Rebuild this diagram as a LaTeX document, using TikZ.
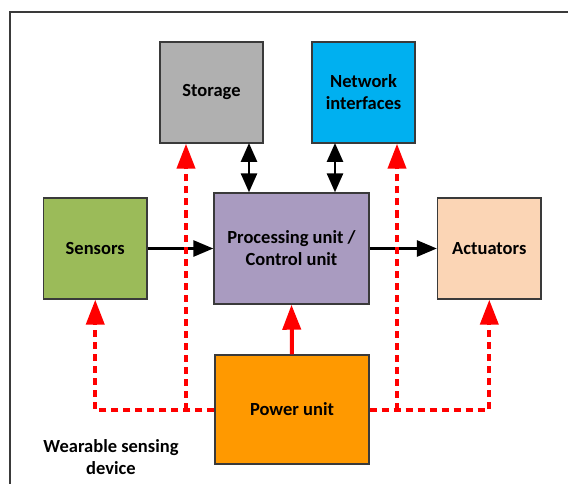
\documentclass[tikz,border=0pt]{standalone}
\usepackage{fontspec}
\setmainfont{Carlito}
\usetikzlibrary{arrows.meta}
\definecolor{cstor}{HTML}{B0B0B0}
\definecolor{cnet}{HTML}{00B0F0}
\definecolor{csens}{HTML}{9BBB59}
\definecolor{cproc}{HTML}{A99BC0}
\definecolor{cact}{HTML}{FBD5B5}
\definecolor{cpow}{HTML}{FF9900}
\definecolor{cedge}{HTML}{3A3A3A}
\tikzset{
  blk/.style={draw=cedge, line width=1.4pt, rectangle, inner sep=0pt, align=center,
    font=\fontsize{18.5}{22}\selectfont\bfseries},
  blkarrow/.style={line width=2.8pt, -{Triangle[length=20pt,width=16pt]}},
  blkdouble/.style={line width=2.8pt, {Triangle[length=19pt,width=16pt]}-{Triangle[length=19pt,width=16pt]}},
  redsolid/.style={draw=red, line width=4pt, -{Triangle[length=25pt,width=18pt]}},
  reddash/.style={draw=red, line width=4pt, dash pattern=on 7pt off 5pt},
  reddasharrow/.style={reddash, -{Triangle[length=25pt,width=18pt]}},
}
\begin{document}
\begin{tikzpicture}[x=1pt,y=-1pt]
\useasboundingbox (0,0) rectangle (568,484);
\fill[white] (0,0) rectangle (568,484);
\draw[cedge, line width=1.4pt] (9.8,484) -- (9.8,12) -- (568,12);

\node[blk, fill=cstor, minimum width=103pt, minimum height=101pt] (storage) at (211.5,92.5) {Storage};
\node[blk, fill=cnet, minimum width=103pt, minimum height=101pt] (network) at (363.5,92.5) {Network\\interfaces};
\node[blk, fill=csens, minimum width=103.5pt, minimum height=101pt] (sensors) at (95.25,248.5) {Sensors};
\node[blk, fill=cproc, minimum width=155pt, minimum height=111pt] (proc) at (291.5,248.5) {Processing unit /\\Control unit};
\node[blk, fill=cact, minimum width=103.5pt, minimum height=101pt] (act) at (489.3,248.5) {Actuators};
\node[blk, fill=cpow, minimum width=154pt, minimum height=109pt] (power) at (292,409.5) {Power unit};

\node[font=\fontsize{18.5}{22}\selectfont\bfseries, align=center] (label) at (111,457) {Wearable sensing\\device};

% black arrows
\draw[blkarrow] (sensors.east) -- (proc.west |- sensors.east);
\draw[blkarrow] (proc.east) -- (act.west |- proc.east);
\coordinate (sa) at (249,143);
\coordinate (na) at (335,143);
\draw[blkdouble] (sa) -- (sa |- proc.north);
\draw[blkdouble] (na) -- (na |- proc.north);

% power connections
\draw[redsolid] (power.north) -- (proc.south);
\coordinate (sj) at (186,409.5);
\coordinate (nj) at (397,409.5);
\draw[reddasharrow] (power.west) -| (sensors.south);
\draw[reddasharrow] (power.east) -| (act.south);
\draw[reddasharrow] (sj) -- (sj |- storage.south);
\draw[reddasharrow] (nj) -- (nj |- network.south);
\end{tikzpicture}
\end{document}
